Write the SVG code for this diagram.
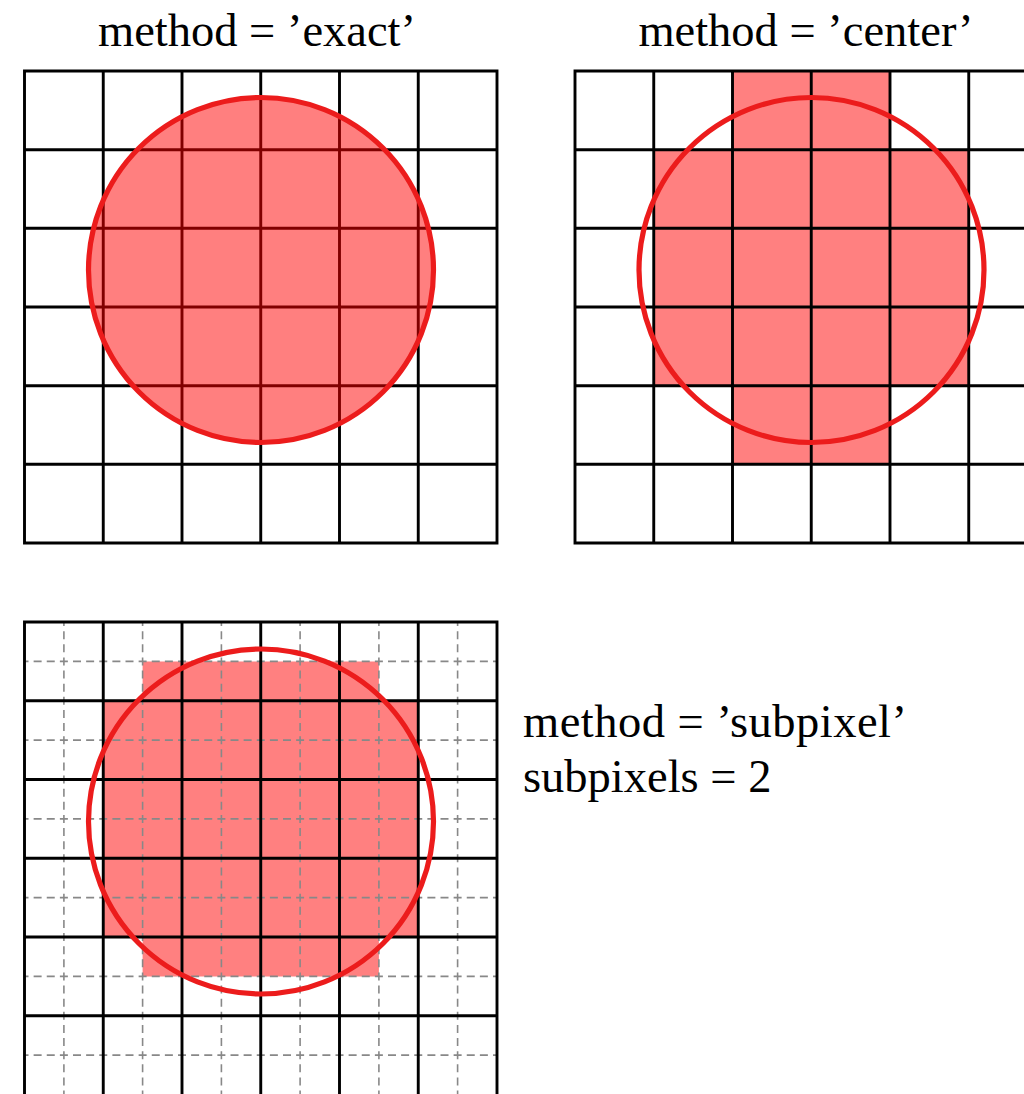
<svg xmlns="http://www.w3.org/2000/svg" width="1024" height="1094" viewBox="0 0 1024 1094">
<style>
.t{font-family:"Liberation Serif","Times New Roman",serif;font-size:46.5px;fill:#000}
.g{fill:none;stroke:#000;stroke-width:2.9}
.d{fill:none;stroke:#888;stroke-width:1.6;stroke-dasharray:8 5.125;stroke-dashoffset:4}
.c{fill:none;stroke:#EC1C1C;stroke-width:5.2}
.f{fill:#FF8080}
</style>
<rect width="1024" height="1094" fill="#fff"/>

<g id="exact">
<text class="t" x="257" y="46" text-anchor="middle">method = ’exact’</text>
<path class="g" d="M24.5,71H497V543H24.5Z M103.25,71V543 M182,71V543 M260.75,71V543 M339.5,71V543 M418.25,71V543 M24.5,149.7H497 M24.5,228.3H497 M24.5,307H497 M24.5,385.7H497 M24.5,464.3H497"/>
<circle cx="261" cy="270" r="172.5" fill="#FF0000" fill-opacity="0.5"/>
<circle class="c" cx="261" cy="270" r="172.5"/>
</g>

<g id="center">
<text class="t" x="806" y="46" text-anchor="middle">method = ’center’</text>
<path class="f" d="M732.5,71H890V149.7H968.75V385.7H890V464.3H732.5V385.7H653.75V149.7H732.5Z"/>
<path class="g" d="M575,71H1047.5V543H575Z M653.75,71V543 M732.5,71V543 M811.25,71V543 M890,71V543 M968.75,71V543 M575,149.7H1047.5 M575,228.3H1047.5 M575,307H1047.5 M575,385.7H1047.5 M575,464.3H1047.5"/>
<circle class="c" cx="811.5" cy="270" r="172.5"/>
</g>

<g id="subpixel">
<path class="f" d="M142.6,661.4H378.9V700.75H418.25V937H378.9V976.4H142.6V937H103.25V700.75H142.6Z"/>
<path class="d" d="M63.9,622V1094 M142.6,622V1094 M221.4,622V1094 M300.1,622V1094 M378.9,622V1094 M457.6,622V1094 M24.5,661.4H497 M24.5,740.1H497 M24.5,818.9H497 M24.5,897.6H497 M24.5,976.4H497 M24.5,1055.1H497"/>
<path class="g" d="M24.5,1094V622H497V1094 M103.25,622V1094 M182,622V1094 M260.75,622V1094 M339.5,622V1094 M418.25,622V1094 M24.5,700.75H497 M24.5,779.5H497 M24.5,858.25H497 M24.5,937H497 M24.5,1015.75H497"/>
<circle class="c" cx="261" cy="821.5" r="172.5"/>
<text class="t" x="523" y="737" textLength="384" lengthAdjust="spacing">method = ’subpixel’</text>
<text class="t" x="523" y="792">subpixels = 2</text>
</g>
</svg>
